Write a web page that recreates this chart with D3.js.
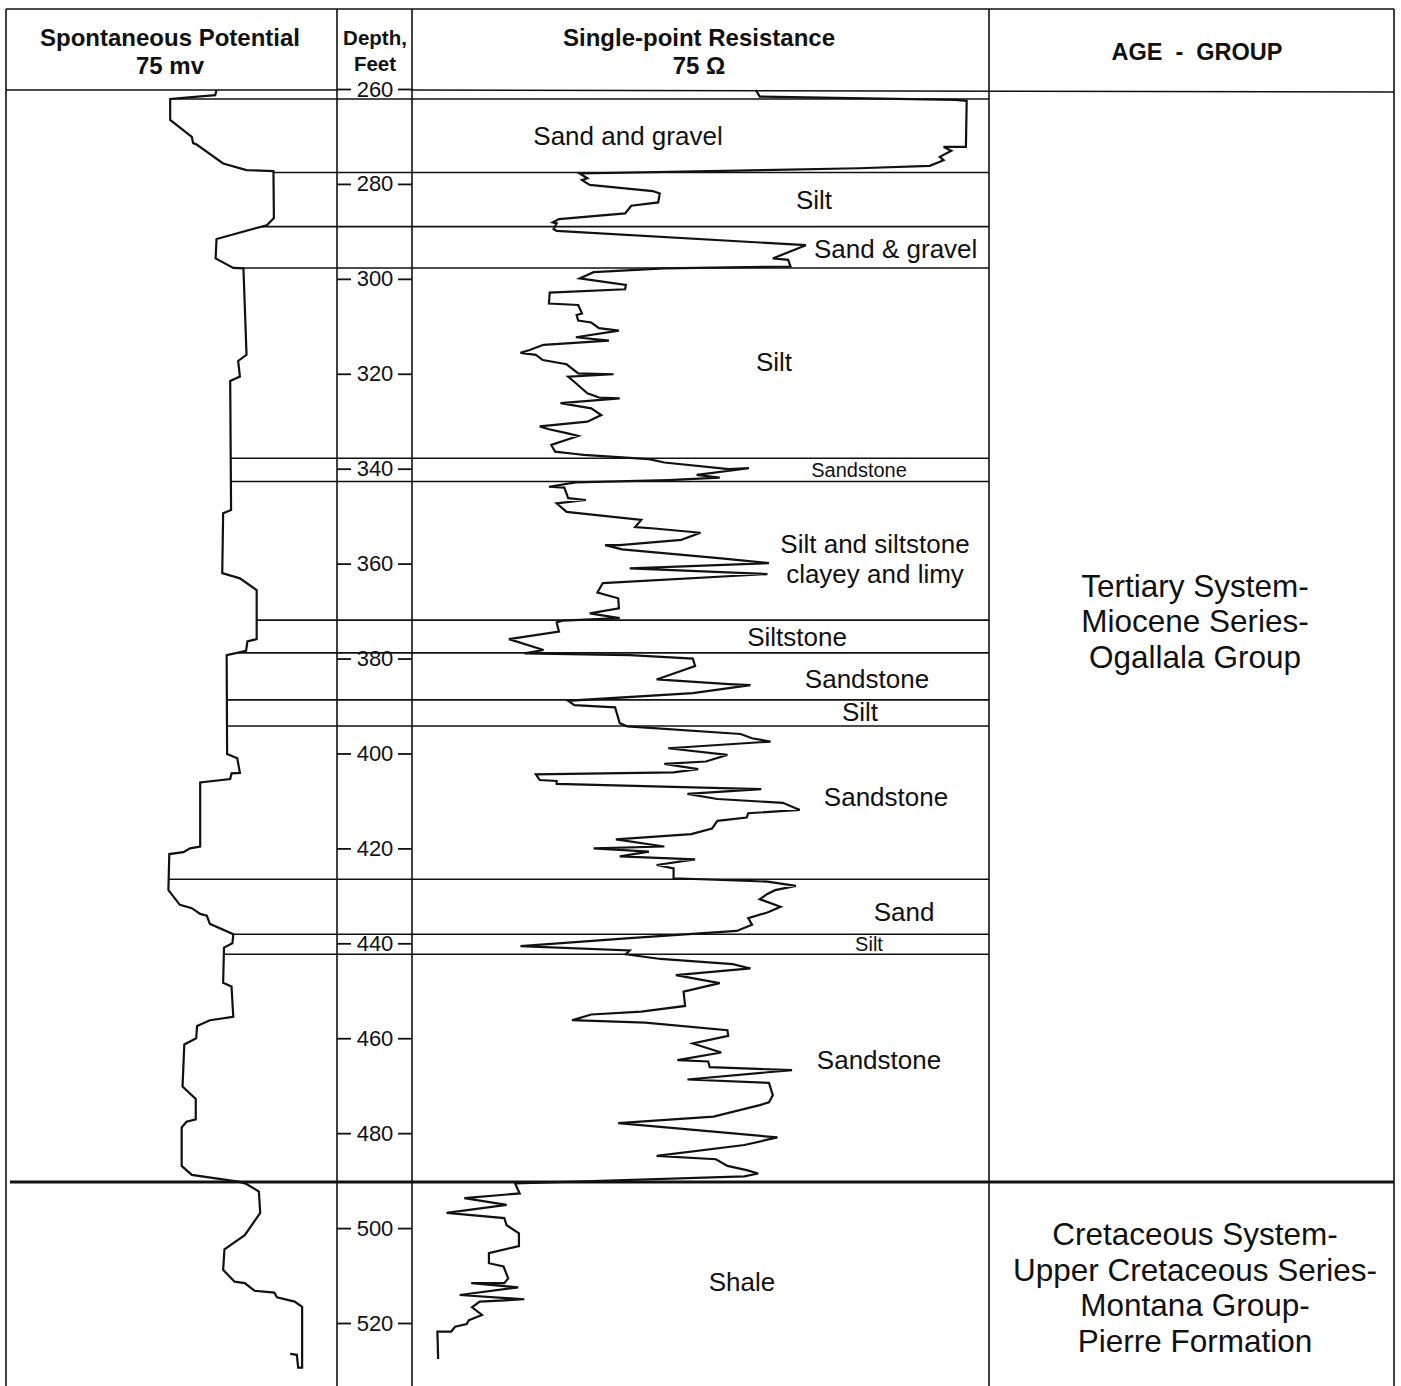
<!DOCTYPE html>
<meta charset="utf-8">
<head>
<script src="https://d3js.org/d3.v7.min.js"></script>
<style>
body { margin: 0; background: #fff; }
text { font-family: "Liberation Sans", Arial, sans-serif; fill: #111; }
.hdr { font-weight: bold; }
</style>
</head>
<body>
<div id="log"></div>
<script>
// depth ticks (feet)
var depthTicks = [260, 280, 300, 320, 340, 360, 380, 400, 420, 440, 460, 480, 500, 520];

// spontaneous potential log: depth (ft) and reading (mv, 0-75 across the track)
var spDepth = [260.2, 261.3, 262.1, 266.5, 270.1, 271.4, 271.7, 275.7, 277.1, 277.3,
  287.2, 288.7, 291.6, 295.7, 297.7, 297.8, 316.0, 317.3, 320.6, 321.5,
  348.7, 349.4, 362.0, 363.1, 365.6, 375.9, 376.4, 378.4, 379.3, 400.1,
  401.0, 404.1, 404.2, 405.4, 406.1, 419.6, 420.0, 420.8, 421.2, 428.8,
  431.9, 432.6, 433.8, 434.2, 435.9, 438.1, 440.0, 440.9, 448.3, 449.1,
  455.5, 456.2, 457.4, 460.0, 461.3, 470.2, 472.8, 477.1, 477.6, 478.8,
  486.9, 488.8, 490.2, 490.7, 492.3, 496.8, 501.5, 504.5, 508.8, 511.3,
  511.6, 513.2, 513.6, 514.6, 515.5, 516.6, 529.4, 529.4, 526.7, 526.5];
var spMv = [47.7, 47.4, 37.2, 37.2, 42.1, 42.4, 43.2, 49.2, 54.5, 60.6,
  60.7, 59.1, 47.7, 47.5, 51.5, 53.8, 54.5, 52.6, 53.0, 50.8,
  51.0, 49.2, 49.0, 53.0, 56.8, 56.8, 54.7, 54.4, 50.0, 50.1,
  52.4, 53.0, 51.1, 50.8, 44.0, 44.0, 41.7, 40.2, 37.0, 36.8,
  39.4, 42.1, 44.0, 45.5, 46.2, 51.5, 51.3, 49.4, 49.2, 51.1,
  51.5, 46.2, 43.3, 43.1, 40.4, 40.0, 43.0, 43.0, 40.9, 39.8,
  39.8, 42.1, 52.6, 54.5, 57.3, 57.6, 54.1, 49.5, 49.2, 51.8,
  54.1, 56.3, 60.8, 61.4, 65.4, 67.1, 67.1, 66.2, 65.9, 64.4];

// single-point resistance log: depth (ft) and reading (ohms, 0-75 across the track)
var resDepth = [260.2, 261.6, 262.3, 262.5, 272.2, 272.2, 273.0, 274.3, 275.0, 276.2,
  276.7, 277.8, 278.8, 279.2, 280.2, 281.5, 282.0, 283.9, 284.6, 286.2,
  287.4, 288.1, 288.3, 289.5, 289.9, 292.9, 295.7, 296.0, 297.4, 297.8,
  298.6, 299.9, 301.3, 302.2, 302.9, 305.2, 305.5, 307.3, 307.6, 308.8,
  309.2, 310.4, 310.9, 312.3, 313.0, 313.9, 315.0, 315.6, 316.0, 317.1,
  318.0, 319.9, 320.1, 320.6, 322.0, 324.1, 325.0, 325.2, 326.2, 327.3,
  328.7, 330.1, 331.1, 331.7, 332.5, 333.1, 335.0, 336.4, 336.9, 337.1,
  338.0, 338.7, 340.1, 339.9, 341.3, 341.9, 342.4, 342.9, 343.8, 344.0,
  346.2, 346.6, 347.3, 349.1, 350.8, 352.3, 352.6, 353.5, 355.0, 356.1,
  356.1, 357.0, 358.9, 359.9, 361.0, 362.2, 364.1, 366.1, 367.3, 369.4,
  370.5, 371.5, 372.0, 372.4, 374.3, 375.9, 378.2, 378.9, 379.3, 380.0,
  381.6, 384.4, 385.4, 385.6, 387.3, 388.9, 389.8, 390.3, 393.6, 394.3,
  395.9, 396.8, 397.5, 398.9, 400.3, 401.7, 402.2, 403.3, 404.0, 404.4,
  405.6, 405.8, 406.4, 407.5, 408.5, 409.6, 410.4, 411.9, 412.6, 413.5,
  414.2, 415.8, 417.0, 418.1, 419.6, 420.0, 420.7, 421.7, 422.3, 423.5,
  424.2, 426.3, 427.0, 427.9, 428.8, 429.6, 430.7, 432.3, 433.5, 434.7,
  436.1, 437.4, 438.9, 440.6, 440.8, 441.5, 442.3, 443.3, 444.4, 445.3,
  446.7, 448.4, 450.2, 453.2, 454.4, 455.0, 456.2, 456.7, 458.3, 459.5,
  461.1, 463.0, 464.6, 464.9, 466.1, 466.7, 468.7, 469.4, 472.0, 473.5,
  474.1, 476.5, 477.9, 480.9, 482.5, 484.8, 485.5, 486.9, 487.8, 488.5,
  489.1, 490.6, 492.7, 493.7, 495.1, 496.8, 497.9, 499.4, 501.1, 503.8,
  505.3, 507.4, 508.1, 510.6, 511.6, 511.6, 512.5, 514.1, 515.0, 515.5,
  516.7, 518.3, 519.4, 520.2, 520.8, 521.8, 521.8, 527.6];
var resOhm = [44.7, 45.2, 70.6, 72.1, 72.0, 69.1, 70.1, 68.6, 69.1, 67.3,
  58.1, 21.8, 22.8, 22.1, 23.1, 31.3, 32.2, 32.0, 28.5, 27.7,
  19.1, 18.3, 18.8, 18.4, 18.8, 51.2, 46.9, 48.9, 49.2, 32.8,
  23.6, 21.8, 27.8, 27.7, 17.9, 17.8, 21.6, 22.1, 21.4, 21.6,
  23.3, 24.3, 26.9, 21.3, 25.6, 17.1, 15.3, 14.1, 16.1, 17.0,
  20.1, 21.6, 26.2, 20.3, 21.3, 22.8, 24.3, 27.0, 19.3, 23.3,
  24.6, 22.8, 16.6, 17.8, 20.1, 21.6, 18.1, 18.6, 21.3, 22.3,
  30.8, 32.8, 41.2, 43.8, 37.0, 40.0, 33.3, 21.3, 17.8, 19.8,
  20.3, 22.6, 18.8, 20.1, 29.8, 29.0, 31.5, 37.5, 35.0, 27.0,
  25.1, 27.3, 40.2, 46.4, 28.3, 46.2, 24.8, 24.1, 26.8, 26.9,
  23.1, 27.0, 19.6, 18.8, 19.1, 12.6, 17.1, 14.6, 28.3, 36.5,
  36.8, 31.8, 41.2, 44.0, 36.5, 20.3, 21.1, 26.4, 27.0, 28.0,
  42.7, 44.2, 46.6, 33.3, 41.0, 38.2, 32.8, 37.2, 34.0, 16.1,
  16.6, 18.8, 18.8, 45.4, 35.8, 39.7, 48.2, 50.4, 43.7, 43.5,
  39.7, 39.0, 36.3, 26.5, 32.8, 23.6, 30.8, 27.0, 36.8, 31.8,
  34.0, 34.0, 46.2, 49.9, 47.2, 46.2, 45.2, 47.9, 46.2, 43.7,
  44.2, 42.2, 28.3, 14.1, 17.3, 28.3, 27.8, 32.3, 41.7, 44.0,
  34.3, 40.0, 35.3, 35.5, 29.8, 23.3, 20.8, 30.3, 41.0, 41.1,
  36.5, 40.2, 34.5, 38.5, 38.7, 49.4, 35.8, 46.4, 46.9, 46.4,
  45.2, 39.2, 26.8, 47.5, 43.2, 31.8, 39.5, 41.0, 43.5, 45.0,
  43.2, 13.4, 14.0, 6.8, 12.3, 4.5, 12.0, 12.3, 13.9, 13.9,
  10.0, 10.0, 11.9, 12.5, 12.0, 7.7, 13.8, 6.2, 14.6, 8.8,
  7.8, 9.1, 7.4, 7.1, 5.6, 5.1, 3.3, 3.4];

// lithologic layers: name, top and base depth (ft)
var layerNames = ["Sand and gravel", "Silt", "Sand & gravel", "Silt", "Sandstone",
  "Silt and siltstone\nclayey and limy", "Siltstone", "Sandstone", "Silt", "Sandstone",
  "Sand", "Silt", "Sandstone", "Shale"];
var layerTops = [262.1, 277.6, 289.0, 297.7, 337.8, 342.7, 371.9, 378.8, 388.7, 394.2,
  426.5, 438.1, 442.3, 490.3];
var layerBases = [277.6, 289.0, 297.7, 337.8, 342.7, 371.9, 378.8, 388.7, 394.2, 426.5,
  438.1, 442.3, 490.3, 533.0];

// age - group units
var ageNames = [
  ["Tertiary System-", "Miocene Series-", "Ogallala Group"],
  ["Cretaceous System-", "Upper Cretaceous Series-", "Montana Group-", "Pierre Formation"]
];
var ageTops = [260, 490.3];
var ageBases = [490.3, 533.0];

// layout
var W = 1401, H = 1386;
var colSP = [6, 337], colDepth = [337, 412], colRes = [412, 989], colAge = [989, 1394];
var topY = 9, headY = 90;

// label placement for layers (pixel x, anchor, size, vertical nudge)
var labelX = [628, 814, 814, 774, 859, 875, 797, 867, 860, 886, 904, 869, 879, 742];
var labelAnchor = ["middle", "middle", "start", "middle", "middle", "middle", "middle",
  "middle", "middle", "middle", "middle", "middle", "middle", "middle"];
var labelSize = [26, 26, 26, 26, 20, 26, 26, 26, 26, 26, 26, 20, 26, 26];
var labelNudge = [0, 0, 1, -1, 0, 8, 0, 2, -1, -6, 5, 0, -8, -2];

var svg = d3.select("body").append("svg")
  .attr("width", W)
  .attr("height", H);

svg.append("rect").attr("width", W).attr("height", H).attr("fill", "#fff");

var y = d3.scaleLinear().domain([260, 520]).range([89, 1323]);
var xSP = d3.scaleLinear().domain([0, 75]).range(colSP);
var xRes = d3.scaleLinear().domain([0, 75]).range(colRes);

var spData = spDepth.map(function(d, i) { return {depth: d, v: spMv[i]}; });
var resData = resDepth.map(function(d, i) { return {depth: d, v: resOhm[i]}; });

// SP reading at a depth, used to start the formation lines at the curve
function spAt(depth) {
  for (var i = 0; i < spData.length - 1; i++) {
    var a = spData[i], b = spData[i + 1];
    if (a.depth <= depth && b.depth >= depth) {
      if (b.depth === a.depth) return b.v;
      var t = (depth - a.depth) / (b.depth - a.depth);
      return a.v + t * (b.v - a.v);
    }
  }
  return spData[0].v;
}

var ink = "#111";

// frame
var frame = svg.append("g").attr("stroke", ink).attr("stroke-width", 1.6).attr("fill", "none");
frame.append("line").attr("x1", colSP[0]).attr("x2", colAge[1]).attr("y1", topY).attr("y2", topY);
[colSP[0], colDepth[0], colDepth[1], colRes[1], colAge[1]].forEach(function(x) {
  frame.append("line").attr("x1", x).attr("x2", x).attr("y1", topY).attr("y2", H);
});
frame.append("line").attr("x1", colSP[0]).attr("x2", colDepth[0]).attr("y1", headY).attr("y2", headY);
frame.append("line").attr("x1", colDepth[1]).attr("x2", colAge[1]).attr("y1", headY).attr("y2", headY + 2);

// formation boundaries
var bounds = svg.append("g").attr("stroke", ink).attr("fill", "none");
layerTops.forEach(function(d, i) {
  if (i === layerTops.length - 1) {
    bounds.append("line")
      .attr("x1", colSP[0] + 4).attr("x2", colAge[1])
      .attr("y1", y(d)).attr("y2", y(d))
      .attr("stroke-width", 3);
  } else {
    bounds.append("line")
      .attr("x1", xSP(spAt(d))).attr("x2", colRes[1])
      .attr("y1", y(d)).attr("y2", y(d))
      .attr("stroke-width", 1.6);
  }
});

// depth axis: ticks from both sides, labels in the middle
var axL = svg.append("g").attr("transform", "translate(" + colDepth[0] + ",0)")
  .call(d3.axisRight(y).tickValues(depthTicks).tickSize(14).tickFormat(""));
var axR = svg.append("g").attr("transform", "translate(" + colDepth[1] + ",0)")
  .call(d3.axisLeft(y).tickValues(depthTicks).tickSize(14).tickFormat(""));
var axT = svg.append("g").attr("transform", "translate(375,0)")
  .call(d3.axisRight(y).tickValues(depthTicks).tickSize(0).tickPadding(0));
[axL, axR, axT].forEach(function(g) {
  g.select(".domain").remove();
  g.selectAll(".tick line").attr("stroke", ink).attr("stroke-width", 1.8);
});
axT.selectAll(".tick text")
  .attr("text-anchor", "middle")
  .attr("font-size", 22)
  .attr("font-family", "Liberation Sans, Arial, sans-serif")
  .attr("fill", ink);

// curves
var spLine = d3.line().x(function(d) { return xSP(d.v); }).y(function(d) { return y(d.depth); });
var resLine = d3.line().x(function(d) { return xRes(d.v); }).y(function(d) { return y(d.depth); });

svg.append("path").datum(spData)
  .attr("d", spLine).attr("fill", "none").attr("stroke", ink)
  .attr("stroke-width", 2.2).attr("stroke-linejoin", "miter");
svg.append("path").datum(resData)
  .attr("d", resLine).attr("fill", "none").attr("stroke", ink)
  .attr("stroke-width", 2.2).attr("stroke-linejoin", "miter");

// layer labels
layerNames.forEach(function(name, i) {
  var lines = name.split("\n");
  var mid = (y(layerTops[i]) + y(Math.min(layerBases[i], 533))) / 2 + labelNudge[i];
  var step = 30;
  var y0 = mid - (lines.length - 1) * step / 2;
  lines.forEach(function(t, j) {
    svg.append("text")
      .attr("x", labelX[i])
      .attr("y", y0 + j * step)
      .attr("dy", "0.36em")
      .attr("text-anchor", labelAnchor[i])
      .attr("font-size", labelSize[i])
      .text(t);
  });
});

// age - group labels
var ageNudge = [-15, 4];
ageNames.forEach(function(lines, i) {
  var mid = (Math.max(y(ageTops[i]), headY) + Math.min(y(ageBases[i]), H)) / 2 + ageNudge[i];
  var step = 35.5;
  var y0 = mid - (lines.length - 1) * step / 2;
  lines.forEach(function(t, j) {
    svg.append("text")
      .attr("x", 1195)
      .attr("y", y0 + j * step)
      .attr("dy", "0.36em")
      .attr("text-anchor", "middle")
      .attr("font-size", 31.5)
      .text(t);
  });
});

// headers
function header(x, yy, t, size) {
  svg.append("text").attr("class", "hdr")
    .attr("x", x).attr("y", yy)
    .attr("text-anchor", "middle")
    .attr("font-size", size)
    .style("white-space", "pre")
    .text(t);
}
header(170, 46, "Spontaneous Potential", 24);
header(170, 74, "75 mv", 24);
header(375, 45, "Depth,", 20.5);
header(375, 71, "Feet", 20.5);
header(699, 46, "Single-point Resistance", 24);
header(699, 74, "75 \u03A9", 24);
header(1197, 60, "AGE  -  GROUP", 23.5);
</script>
</body>
</html>
